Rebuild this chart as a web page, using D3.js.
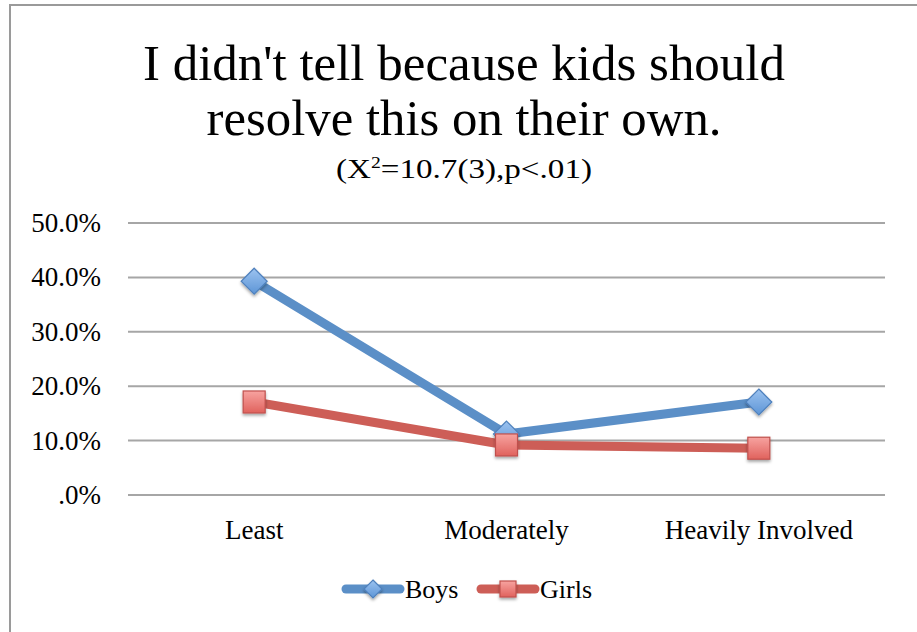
<!DOCTYPE html>
<html><head><meta charset="utf-8">
<script src="https://cdn.jsdelivr.net/npm/d3@7"></script>
<style>html,body{margin:0;padding:0;background:#fff;}svg{display:block;}</style>
</head><body>
<script>
const categories = ["Least", "Moderately", "Heavily Involved"];
const boys = [0.393, 0.112, 0.171];
const girls = [0.171, 0.092, 0.086];
const yTicks = [0, 0.1, 0.2, 0.3, 0.4, 0.5];
const tickLabels = [".0%", "10.0%", "20.0%", "30.0%", "40.0%", "50.0%"];
const seriesNames = ["Boys", "Girls"];
const titleLines = ["I didn't tell because kids should", "resolve this on their own."];

const W = 917, H = 632;
const svg = d3.select("body").append("svg").attr("width", W).attr("height", H);
const defs = svg.append("defs");
const gb = defs.append("linearGradient").attr("id","gBlue").attr("x1",0).attr("y1",0).attr("x2",0).attr("y2",1);
gb.append("stop").attr("offset","0%").attr("stop-color","#9cc3f0");
gb.append("stop").attr("offset","100%").attr("stop-color","#5d95d6");
const gr = defs.append("linearGradient").attr("id","gRed").attr("x1",0).attr("y1",0).attr("x2",0).attr("y2",1);
gr.append("stop").attr("offset","0%").attr("stop-color","#f7a3a0");
gr.append("stop").attr("offset","100%").attr("stop-color","#e0625d");
const f = defs.append("filter").attr("id","sh").attr("x","-50%").attr("y","-50%").attr("width","200%").attr("height","200%");
f.append("feDropShadow").attr("dx",0).attr("dy",2).attr("stdDeviation",1.5).attr("flood-color","#000").attr("flood-opacity",0.35);

// border
svg.append("line").attr("x1",10).attr("x2",W).attr("y1",5).attr("y2",5).attr("stroke","#9a9a9a").attr("stroke-width",2);
svg.append("line").attr("x1",10).attr("x2",10).attr("y1",4).attr("y2",H).attr("stroke","#9a9a9a").attr("stroke-width",2);

const font = "'Liberation Serif', 'DejaVu Serif', serif";

// title
const tW = [642, 515];
titleLines.forEach((t,i)=>{
  svg.append("text").attr("x",464).attr("y",80+i*55).attr("text-anchor","middle")
    .attr("font-family",font).attr("font-size",50).attr("fill","#000")
    .attr("textLength",tW[i]).attr("lengthAdjust","spacingAndGlyphs").text(t);
});
const sub = svg.append("text").attr("x",464).attr("y",178).attr("text-anchor","middle")
  .attr("font-family",font).attr("font-size",27).attr("fill","#000")
  .attr("textLength",256).attr("lengthAdjust","spacingAndGlyphs");
sub.append("tspan").text("(X");
sub.append("tspan").attr("font-size",16).attr("dy",-10).text("2");
sub.append("tspan").attr("dy",10).text("=10.7(3),p<.01)");

const x = d3.scaleBand().domain(categories).range([128,885]);
const y = d3.scaleLinear().domain([0,0.5]).range([495,223]);

// grid
svg.append("g").selectAll("line").data(yTicks).join("line")
  .attr("x1",128).attr("x2",885).attr("y1",d=>y(d)).attr("y2",d=>y(d))
  .attr("stroke","#a6a6a6").attr("stroke-width",2);

// y labels
svg.append("g").selectAll("text").data(yTicks).join("text")
  .attr("x",101).attr("y",d=>y(d)+9).attr("text-anchor","end")
  .attr("font-family",font).attr("font-size",27).attr("fill","#000")
  .text((d,i)=>tickLabels[i]);

// x labels
svg.append("g").selectAll("text").data(categories).join("text")
  .attr("x",d=>x(d)+x.bandwidth()/2).attr("y",539).attr("text-anchor","middle")
  .attr("font-family",font).attr("font-size",27).attr("fill","#000").text(d=>d);

const cx = d=>x(d)+x.bandwidth()/2;
const line = d3.line().x((d,i)=>cx(categories[i])).y(d=>y(d));

const series = [
  {name:seriesNames[0], vals:boys, color:"#5b8fc7", fill:"url(#gBlue)", stroke:"#4f81bd", sym:"diamond"},
  {name:seriesNames[1], vals:girls, color:"#cd5e57", fill:"url(#gRed)", stroke:"#c0504d", sym:"square"}
];

series.forEach(s=>{
  svg.append("path").datum(s.vals).attr("d",line).attr("fill","none")
    .attr("stroke",s.color).attr("stroke-width",9).attr("stroke-linejoin","round").attr("stroke-linecap","round");
});
function marker(g, s, px, py, size){
  const r = size/2;
  if (s.sym==="diamond"){
    g.append("path").attr("d",`M${px},${py-r}L${px+r},${py}L${px},${py+r}L${px-r},${py}Z`)
      .attr("fill",s.fill).attr("stroke",s.stroke).attr("stroke-width",1.2).attr("filter","url(#sh)");
  } else {
    g.append("rect").attr("x",px-r).attr("y",py-r).attr("width",size).attr("height",size)
      .attr("fill",s.fill).attr("stroke",s.stroke).attr("stroke-width",1.2).attr("filter","url(#sh)");
  }
}
series.forEach(s=>{
  const g = svg.append("g");
  s.vals.forEach((v,i)=>marker(g, s, cx(categories[i]), y(v), s.sym==="diamond"?26:22));
});

// legend
const leg = [{x0:344, s:series[0]}, {x0:479, s:series[1]}];
leg.forEach(l=>{
  const g = svg.append("g");
  g.append("line").attr("x1",l.x0+2).attr("x2",l.x0+56).attr("y1",589).attr("y2",589)
    .attr("stroke",l.s.color).attr("stroke-width",9).attr("stroke-linecap","round");
  marker(g, l.s, l.x0+29, 589, l.s.sym==="diamond"?18:16);
  g.append("text").attr("x",l.x0+61).attr("y",598).attr("font-family",font).attr("font-size",26)
    .attr("fill","#000").text(l.s.name);
});
</script>
</body></html>
